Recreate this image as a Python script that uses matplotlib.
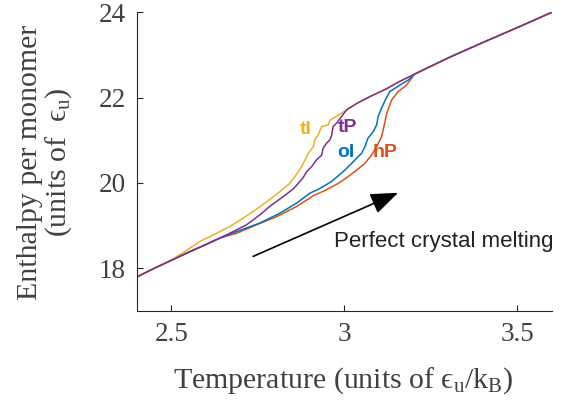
import matplotlib
matplotlib.use("Agg")
import matplotlib.pyplot as plt

plt.rcParams["mathtext.fontset"] = "custom"
plt.rcParams["mathtext.rm"] = "Liberation Serif"
plt.rcParams["mathtext.it"] = "Liberation Serif:italic"

# shared crystal branch (low T) and liquid branch (high T)
low_T = [2.40, 2.45, 2.50, 2.55, 2.60, 2.64]
low_H = [17.80, 18.00, 18.19, 18.38, 18.56, 18.71]
liq_T = [3.006, 3.035, 3.073, 3.12, 3.16, 3.203, 3.30, 3.40, 3.50, 3.60]
liq_H = [21.71, 21.86, 22.02, 22.20, 22.38, 22.55, 22.93, 23.29, 23.64, 24.00]

# melting region for each crystal form
tI_T = [2.50, 2.54, 2.582, 2.63, 2.669, 2.698, 2.736, 2.775, 2.808, 2.842, 2.862,
        2.876, 2.886, 2.895, 2.910, 2.914, 2.924, 2.934, 2.953, 2.958, 2.982]
tI_H = [18.20, 18.40, 18.63, 18.82, 18.98, 19.13, 19.33, 19.56, 19.76, 19.99, 20.21,
        20.38, 20.54, 20.69, 20.85, 21.01, 21.12, 21.32, 21.36, 21.47, 21.59]
tP_T = [2.678, 2.717, 2.755, 2.784, 2.823, 2.852, 2.862, 2.881, 2.890, 2.905, 2.919,
        2.934, 2.938, 2.948, 2.958, 2.963, 2.967, 2.977]
tP_H = [18.86, 19.02, 19.25, 19.45, 19.68, 19.86, 19.95, 20.13, 20.26, 20.38, 20.54,
        20.65, 20.81, 20.93, 21.01, 21.12, 21.32, 21.40]
oI_T = [2.678, 2.755, 2.813, 2.862, 2.900, 2.929, 2.962, 3.001, 3.021, 3.035, 3.049,
        3.059, 3.068, 3.083, 3.093, 3.097, 3.107, 3.118, 3.131, 3.160, 3.184]
oI_H = [18.83, 19.06, 19.29, 19.53, 19.76, 19.87, 20.03, 20.30, 20.46, 20.58, 20.69,
        20.85, 21.05, 21.20, 21.36, 21.55, 21.75, 21.94, 22.14, 22.29, 22.41]
hP_T = [2.688, 2.746, 2.804, 2.862, 2.910, 2.948, 2.982, 3.011, 3.035, 3.059, 3.078,
        3.093, 3.107, 3.114, 3.122, 3.136, 3.155, 3.179]
hP_H = [18.82, 19.02, 19.21, 19.45, 19.70, 19.84, 19.99, 20.15, 20.30, 20.46, 20.65,
        20.85, 21.08, 21.32, 21.63, 21.94, 22.14, 22.29]

series = [
    ("hP", "#D95319", hP_T, hP_H, (3.117, 20.71)),
    ("oI", "#0072BD", oI_T, oI_H, (3.004, 20.71)),
    ("tI", "#EDB120", tI_T, tI_H, (2.888, 21.26)),
    ("tP", "#7E2F8E", tP_T, tP_H, (3.008, 21.29)),
]

fig = plt.figure(figsize=(5.68, 4.05), dpi=100)
ax = fig.add_axes([0.241, 0.232, 0.731, 0.738])

for name, c, T, H, pos in series:
    lo = [i for i, t in enumerate(low_T) if t < T[0]]
    if name in ("tI", "tP"):
        hi = list(range(len(liq_T)))
    else:
        hi = [i for i, t in enumerate(liq_T) if t > T[-1]]
    xs = [low_T[i] for i in lo] + T + [liq_T[i] for i in hi]
    ys = [low_H[i] for i in lo] + H + [liq_H[i] for i in hi]
    ax.plot(xs, ys, color=c, lw=1.1)
    ax.text(pos[0], pos[1], name, color=c, fontsize=14, fontweight="bold",
            family="Liberation Sans", ha="center", va="center")

ax.annotate("", xy=(3.155, 19.77), xytext=(2.736, 18.28),
            arrowprops=dict(arrowstyle="-|>,head_length=1.7,head_width=0.65",
                            color="black", lw=1.2, shrinkA=0, shrinkB=0))
ax.text(3.605, 18.64, "Perfect crystal melting", family="Liberation Sans", fontsize=16,
        color="#222222", ha="right", va="center")

ax.set_xlim(2.4, 3.6)
ax.set_ylim(17, 24)
ax.set_xticks([2.5, 3.0, 3.5])
ax.set_xticklabels(["2.5", "3", "3.5"])
ax.set_yticks([18, 20, 22, 24])
for s in ["top", "right"]:
    ax.spines[s].set_visible(False)
for s in ["left", "bottom"]:
    ax.spines[s].set_color("#262626")
ax.tick_params(direction="in", length=4, colors="#262626", labelcolor="#404040",
               labelsize=19.5, pad=8)
for lab in ax.get_xticklabels() + ax.get_yticklabels():
    lab.set_family("Liberation Serif")

fig.text(0.605, 0.044, r"Temperature (units of $\mathrm{ϵ}_{\mathrm{u}}$/k$_{\mathrm{B}}$)",
         family="Liberation Serif", fontsize=21.5, color="#404040", ha="center", va="baseline")
fig.text(0.08, 0.60, "Enthalpy per monomer\n" + r"(units of  $\mathrm{ϵ}_{\mathrm{u}}$)",
         family="Liberation Serif", fontsize=21.5, color="#404040", ha="center", va="center",
         rotation=90, multialignment="center", linespacing=1.0)

fig.savefig("out.png", dpi=100)
